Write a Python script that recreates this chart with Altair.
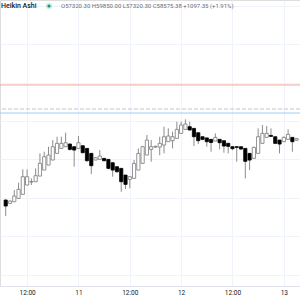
import altair as alt
import pandas as pd

# Hourly Heikin Ashi candles, starting 2024-09-10 07:00 UTC
start_time = "2024-09-10 07:00"
opens = [55942, 55855, 55899, 55985, 56090, 56333, 56410, 56419, 56567, 56723,
         56853, 56984, 57157, 57287, 57331, 57400, 57331, 57287, 57357, 57287,
         57157, 56984, 57001, 57027, 57001, 56914, 56810, 56767, 56593, 56480,
         56506, 56723, 56897, 57114, 57261, 57320, 57320, 57374, 57461, 57487,
         57548, 57678, 57782, 57852, 57808, 57695, 57591, 57560, 57522, 57478,
         57522, 57487, 57420, 57331, 57331, 57331, 57287, 57157, 57027, 57157,
         57418, 57574, 57625, 57591, 57504, 57461, 57522, 57574, 57500]
highs = [55960, 55935, 56202, 56393, 56741, 56741, 56506, 56767, 57157, 57201,
         57331, 57504, 57591, 57591, 57695, 57420, 57331, 57609, 57357, 57287,
         57157, 57060, 57244, 57027, 57001, 56914, 56810, 56767, 56593, 56570,
         56984, 57287, 57350, 57635, 57504, 57360, 57591, 57852, 57808, 57720,
         57982, 57982, 58043, 57982, 57808, 57695, 57591, 57560, 57522, 57678,
         57522, 57487, 57420, 57340, 57340, 57331, 57287, 57157, 57331, 57808,
         57895, 57869, 57808, 57591, 57504, 57600, 57782, 57574, 57560]
lows = [55525, 55855, 55899, 55985, 56090, 56333, 56333, 56419, 56567, 56723,
        56853, 56984, 57157, 57287, 57331, 57230, 56810, 57287, 57160, 56940,
        56619, 56984, 57001, 56950, 56740, 56550, 56650, 56159, 56230, 56246,
        56506, 56723, 56897, 57114, 56940, 57300, 57110, 57157, 57461, 57287,
        57548, 57678, 57782, 57765, 57350, 57400, 57500, 57331, 57201, 57478,
        57261, 57175, 57157, 57240, 56940, 57250, 56506, 56723, 57027, 57157,
        57418, 57574, 57590, 57400, 57157, 57461, 57522, 57201, 57480]
closes = [55786, 55916, 56046, 56220, 56550, 56550, 56425, 56576, 56897, 57070,
          57114, 57331, 57418, 57418, 57435, 57261, 57244, 57435, 57175, 56966,
          56836, 57044, 57088, 56966, 56767, 56723, 56680, 56419, 56350, 56550,
          56897, 57157, 57331, 57504, 57331, 57340, 57418, 57591, 57609, 57591,
          57782, 57895, 57921, 57765, 57591, 57487, 57522, 57461, 57440, 57574,
          57435, 57348, 57340, 57280, 57313, 57270, 56950, 56984, 57313, 57591,
          57678, 57678, 57600, 57418, 57400, 57574, 57652, 57461, 57540]

# Horizontal price lines
line_prices = [58938, 58313, 58208]
line_kinds = ["red", "dashed", "blue"]

times = pd.date_range(start_time, periods=len(opens), freq="h").strftime("%Y-%m-%dT%H:%M:%SZ")
df = pd.DataFrame({"t": times, "o": opens, "h": highs, "l": lows, "c": closes})
df["dir"] = ["up" if c >= o else "down" for o, c in zip(opens, closes)]

x_domain = [alt.DateTime(year=2024, month=9, date=10, hours=6, minutes=50, utc=True),
            alt.DateTime(year=2024, month=9, date=13, hours=2, minutes=37, utc=True)]
x_values = [alt.DateTime(year=2024, month=9, date=d, hours=h, utc=True)
            for d, h in [(10, 12), (11, 0), (11, 12), (12, 0), (12, 12), (13, 0)]]

y_scale = alt.Scale(domain=[53704, 61151], nice=False, zero=False)
x_scale = alt.Scale(type="utc", domain=x_domain, nice=False)

x_enc = alt.X("t:T", scale=x_scale, title=None,
              axis=alt.Axis(values=x_values, grid=True, gridColor="#f0f3fa", gridWidth=1,
                            ticks=False, domain=True, domainColor="#e0e3eb", domainWidth=1,
                            labelFont="Roboto", labelFontSize=6.5, labelColor="#131722",
                            labelPadding=3,
                            labelExpr="utcFormat(datum.value, '%H') == '00' ? utcFormat(datum.value, '%-d') : '12:00'"))
y_axis = alt.Axis(values=list(range(54000, 61001, 500)), grid=True, gridColor="#f0f3fa",
                  labels=False, ticks=False, domain=False, title=None, orient="right")

base = alt.Chart(df)

wicks = base.mark_rule(strokeWidth=1, color="#8c8c8c", clip=True).encode(
    x=x_enc,
    y=alt.Y("l:Q", scale=y_scale, axis=y_axis),
    y2="h:Q",
)

bodies = base.mark_bar(size=3.2, strokeWidth=0.8, clip=True).encode(
    x=alt.X("t:T", scale=x_scale),
    y=alt.Y("o:Q", scale=y_scale),
    y2="c:Q",
    fill=alt.Fill("dir:N", scale=alt.Scale(domain=["up", "down"], range=["#ffffff", "#000000"]), legend=None),
    stroke=alt.Stroke("dir:N", scale=alt.Scale(domain=["up", "down"], range=["#787878", "#000000"]), legend=None),
)

lines_df = pd.DataFrame({"price": line_prices, "kind": line_kinds})
hlines = alt.Chart(lines_df).mark_rule(strokeWidth=1, clip=True).encode(
    y=alt.Y("price:Q", scale=y_scale),
    color=alt.Color("kind:N", scale=alt.Scale(domain=line_kinds, range=["#f5a49d", "#c4c4c4", "#9fcdf5"]), legend=None),
    strokeDash=alt.StrokeDash("kind:N", scale=alt.Scale(domain=line_kinds, range=[[1, 0], [4, 2], [1, 0]]), legend=None),
)

title_df = pd.DataFrame({"label": ["Heikin Ashi"]})
title_txt = alt.Chart(title_df).mark_text(align="left", baseline="middle", font="Roboto",
                                          fontSize=7, fontWeight=500, color="#131722").encode(
    x=alt.value(1), y=alt.value(6), text="label:N")

dot_halo = alt.Chart(title_df).mark_point(filled=True, size=40, color="#089981", opacity=0.18).encode(
    x=alt.value(49), y=alt.value(6))
dot = alt.Chart(title_df).mark_point(filled=True, size=10, color="#089981", opacity=1).encode(
    x=alt.value(49), y=alt.value(6))

ohlc_df = pd.DataFrame({"label": ["O57320.30  H59850.00  L57320.30  C58575.38  +1097.35 (+1.91%)"]})
ohlc_txt = alt.Chart(ohlc_df).mark_text(align="left", baseline="middle", font="Roboto",
                                        fontSize=6, color="#6a6d78").encode(
    x=alt.value(61), y=alt.value(6), text="label:N")

chart = alt.layer(wicks, bodies, hlines, title_txt, dot_halo, dot, ohlc_txt).properties(
    width=300, height=286,
    padding={"left": 0, "top": 0, "right": 0, "bottom": 14},
    autosize=alt.AutoSizeParams(type="none")
).configure_view(stroke=None).configure(background="#ffffff")

chart.save("out.html", embed_options={"renderer": "svg", "actions": False})
